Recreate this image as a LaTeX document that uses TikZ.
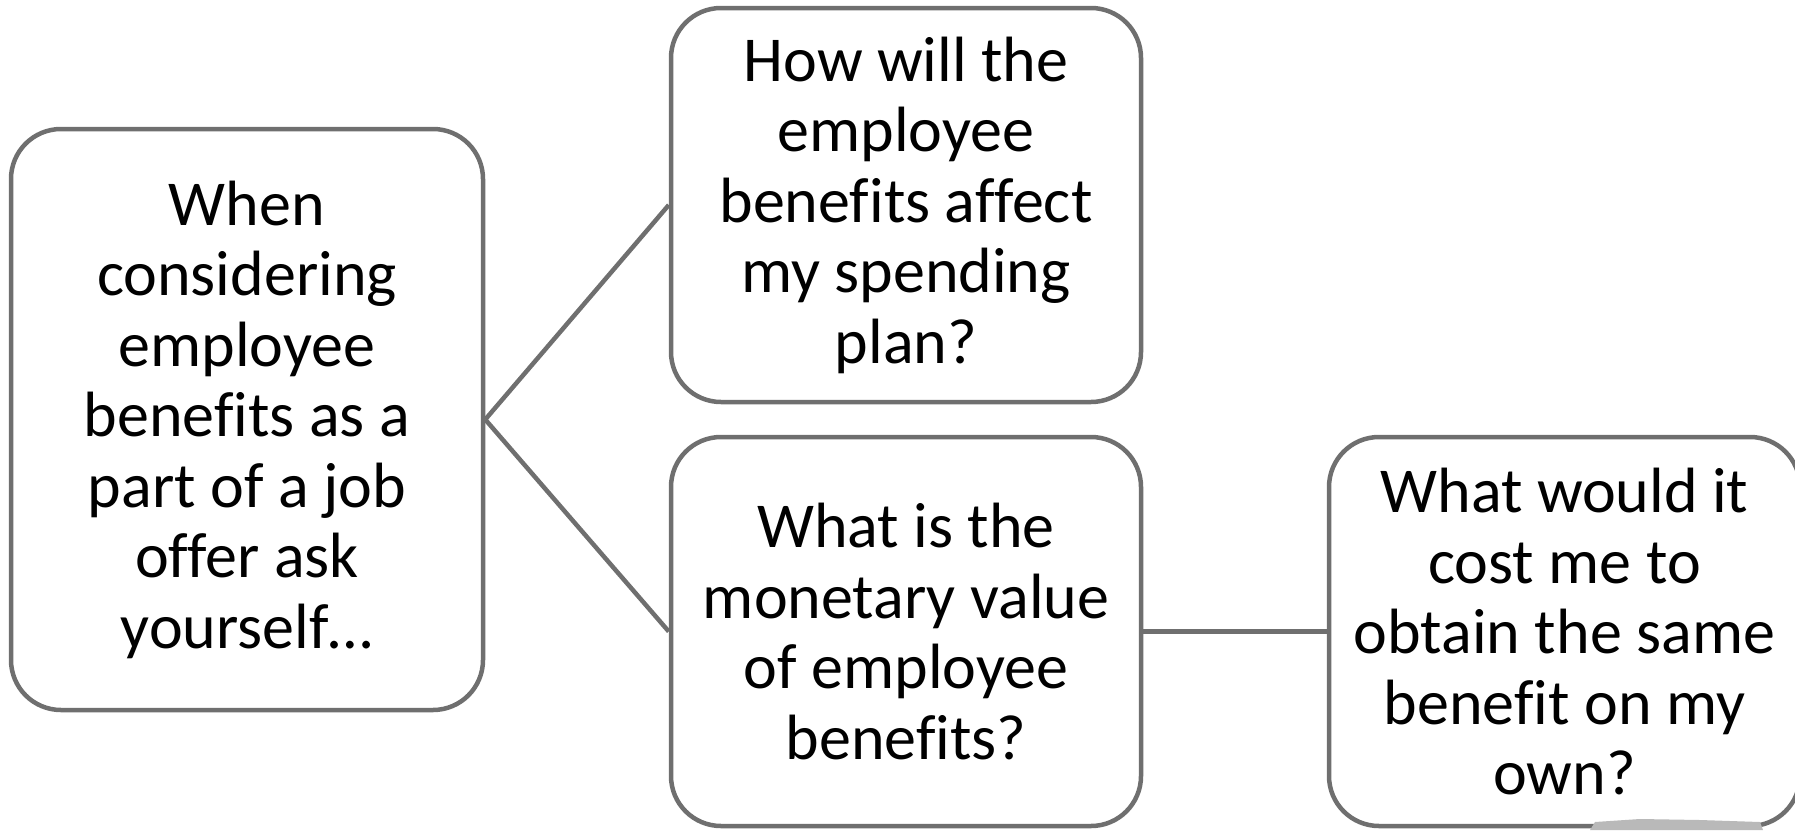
\documentclass[tikz,border=0pt]{standalone}
\usepackage{fontspec}
\setmainfont[Ligatures=NoCommon]{Carlito}
\definecolor{boxgray}{HTML}{6F6F6F}
\begin{document}
\begin{tikzpicture}[x=1pt,y=-1pt,
  qbox/.style={draw=boxgray, line width=4.5pt, rounded corners=50pt, fill=white,
    align=center, font=\fontsize{64}{70.5}\selectfont, inner sep=0pt},
  link/.style={draw=boxgray, line width=4.5pt}]
\useasboundingbox (0,0) rectangle (1795,830);
\clip (0,0) rectangle (1795,830);
\node[qbox, minimum width=472pt, minimum height=581pt] (ask) at (247,419.5)
  {When\\considering\\employee\\benefits as a\\part of a job\\offer ask\\yourself\ldots};
\node[qbox, minimum width=470pt, minimum height=394pt] (spend) at (906,205)
  {How will the\\employee\\benefits affect\\my spending\\plan?};
\node[qbox, minimum width=470pt, minimum height=389pt] (value) at (906,631.5)
  {What is the\\monetary value\\of employee\\benefits?};
\node[qbox, minimum width=471pt, minimum height=389pt] (cost) at (1564.5,631.5)
  {What would it\\cost me to\\obtain the same\\benefit on my\\own?};
\draw[link] (ask.east) -- (spend.west);
\draw[link] (ask.east) -- (value.west);
\draw[link] (value.east) -- (cost.west);
\fill[gray!55] (1590,830) -- (1595,822) -- (1640,819) -- (1700,820) -- (1760,822) -- (1763,830) -- cycle;
\end{tikzpicture}
\end{document}
